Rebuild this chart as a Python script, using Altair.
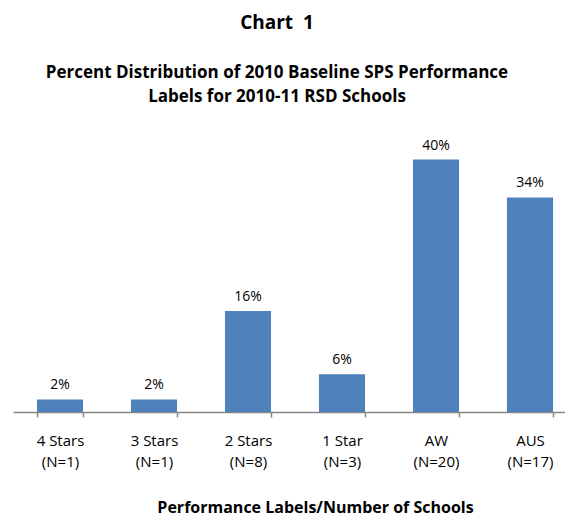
import altair as alt
import pandas as pd

labels = ["4 Stars", "3 Stars", "2 Stars", "1 Star", "AW", "AUS"]
counts = ["(N=1)", "(N=1)", "(N=8)", "(N=3)", "(N=20)", "(N=17)"]
percents = [2, 2, 16, 6, 40, 34]

df = pd.DataFrame({
    "cat": [f"{l}\n{c}" for l, c in zip(labels, counts)],
    "pct": percents,
    "txt": [f"{p}%" for p in percents],
})

FONT = "Open Sans"

x = alt.X("cat:N", sort=None, title="Performance Labels/Number of Schools",
          scale=alt.Scale(paddingInner=0.51, paddingOuter=0.255, range=[0, 564]),
          axis=alt.Axis(labelAngle=0, labelExpr="split(datum.label, '\\n')",
                        labelFontSize=15, labelColor="#000000", labelFont=FONT,
                        labelLineHeight=21, labelPadding=16, labelLimit=0,
                        tickSize=5, tickColor="#868686", domainColor="#868686",
                        tickBand="extent", domainWidth=1.5, tickWidth=1.5,
                        titleFont=FONT, titleFontSize=16, titleFontWeight="bold",
                        titleColor="#000000", titlePadding=30,
                        titleX=302))
y = alt.Y("pct:Q", axis=None, scale=alt.Scale(domain=[0, 45], nice=False))

bars = alt.Chart(df).mark_bar(color="#4F81BD").encode(x=x, y=y)
text = alt.Chart(df).mark_text(dy=-10, baseline="alphabetic", fontSize=14,
                               font=FONT, color="#000000").encode(
    x=x, y=y, text="txt:N")

chart = (bars + text).properties(
    width=552, height=284,
    autosize=alt.AutoSizeParams(type="none"),
    padding={"left": 5, "right": 0, "top": 120, "bottom": 104},
    title=alt.TitleParams(
        text="Chart\u00a0 1",
        subtitle=["Percent Distribution of 2010 Baseline SPS Performance",
                  "Labels for 2010-11 RSD Schools"],
        font=FONT, fontSize=19, fontWeight="bold", color="#000000",
        subtitleFont=FONT, subtitleFontSize=17, subtitleFontWeight="bold",
        subtitleColor="#000000", subtitleLineHeight=24, subtitlePadding=32,
        anchor="middle", dx=-12, offset=23),
).configure_view(stroke=None)

chart.save("out.html", embed_options={"renderer": "svg", "actions": False})
